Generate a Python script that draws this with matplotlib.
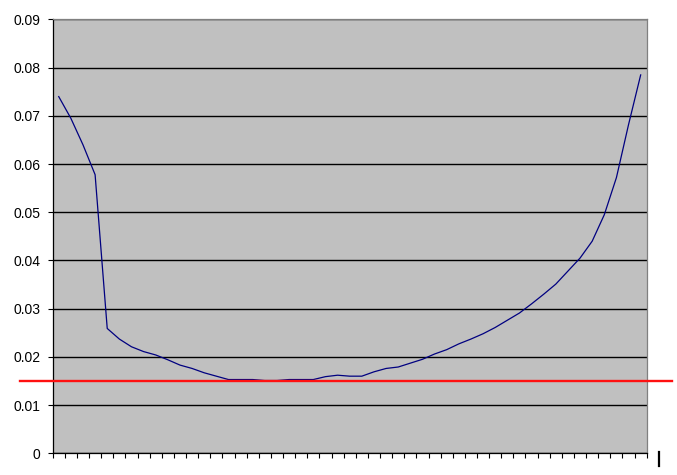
import numpy as np
import matplotlib
matplotlib.use('Agg')
import matplotlib.pyplot as plt
from matplotlib.lines import Line2D

# values, one per category (49 categories)
values = [
    0.0740, 0.0695, 0.0640, 0.0578, 0.0259, 0.0237, 0.0221, 0.0211,
    0.0204, 0.0194, 0.0183, 0.0176, 0.0167, 0.0160, 0.0153, 0.0153,
    0.0153, 0.0151, 0.0151, 0.0153, 0.0153, 0.0153, 0.0159, 0.0162,
    0.0160, 0.0160, 0.0169, 0.0176, 0.0179, 0.0187, 0.0195, 0.0206,
    0.0215, 0.0227, 0.0237, 0.0248, 0.0261, 0.0276, 0.0291, 0.0310,
    0.0330, 0.0351, 0.0378, 0.0405, 0.0440, 0.0495, 0.0572, 0.0682,
    0.0785,
]
threshold = 0.015
y_ticks = [0, 0.01, 0.02, 0.03, 0.04, 0.05, 0.06, 0.07, 0.08, 0.09]

plt.rcParams['font.family'] = ['Liberation Sans', 'DejaVu Sans']

fig = plt.figure(figsize=(6.77, 4.75), dpi=100)
ax = fig.add_axes([0.0778, 0.0457, 0.8775, 0.9133])
ax.set_facecolor('#C0C0C0')

x = np.arange(1, len(values) + 1)
ax.plot(x, values, color='#000080', linewidth=0.9, zorder=3)

ax.set_xlim(0.5, len(values) + 0.5)
ax.set_ylim(0, 0.09)

ax.set_yticks(y_ticks)
ax.set_yticklabels(['0' if v == 0 else '{:.2f}'.format(v) for v in y_ticks])
ax.yaxis.grid(True, color='black', linewidth=1.0)
ax.set_axisbelow(True)

ax.set_xticks(np.arange(0.5, len(values) + 1.0, 1.0))
ax.set_xticklabels([])

ax.tick_params(axis='both', direction='out', length=3.5, width=0.8,
               color='black', labelsize=10, labelcolor='black')
ax.tick_params(axis='y', pad=5.5)

for side in ('top', 'right'):
    ax.spines[side].set_color('#808080')
    ax.spines[side].set_linewidth(0.9)
for side in ('left', 'bottom'):
    ax.spines[side].set_color('black')
    ax.spines[side].set_linewidth(0.9)

# red threshold line runs past both sides of the plot area
ax.plot([-0.055, 1.042], [threshold, threshold],
        transform=ax.get_yaxis_transform(), color='#FF1010',
        linewidth=1.7, clip_on=False, zorder=4)

# small stray mark at the lower right
fig.add_artist(Line2D([659 / 677, 659 / 677],
                      [1 - 452 / 475, 1 - 466 / 475],
                      color='black', linewidth=1.6))

fig.savefig('out.png', dpi=100)
